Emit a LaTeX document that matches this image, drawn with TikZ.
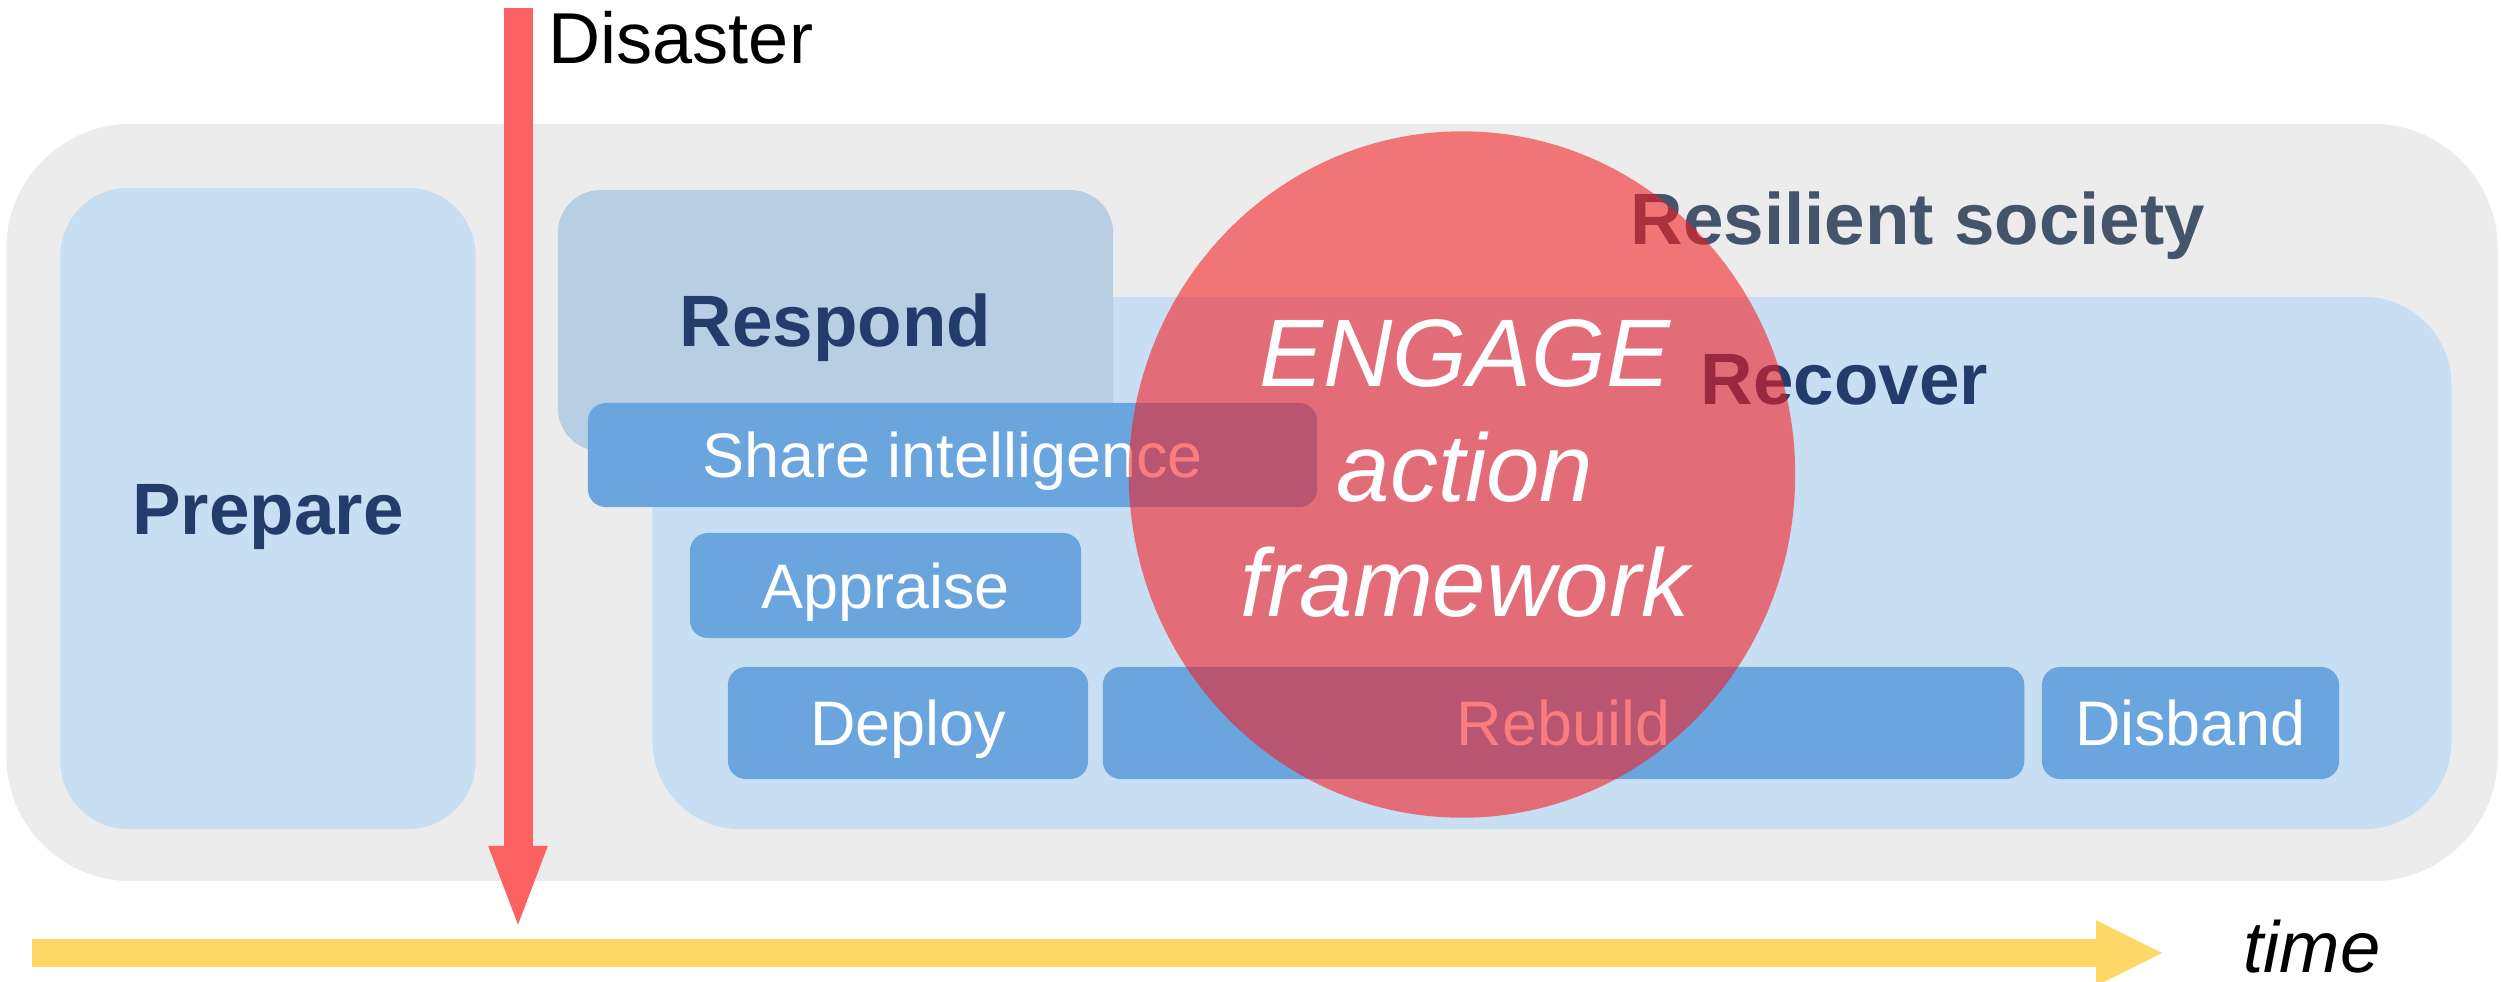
\documentclass[tikz,border=0pt]{standalone}
\usepackage{fontspec}
\setmainfont{Liberation Sans}
\usetikzlibrary{arrows.meta}

\definecolor{societygrey}{RGB}{236,236,236}
\definecolor{phaseblue}{RGB}{200,222,242}
\definecolor{respondblue}{RGB}{184,206,226}
\definecolor{stepblue}{RGB}{106,165,221}
\definecolor{phasetext}{RGB}{35,60,108}
\definecolor{societytext}{RGB}{68,84,106}
\definecolor{disasterred}{RGB}{252,98,98}
\definecolor{engagered}{RGB}{246,25,30}
\definecolor{timeyellow}{RGB}{253,216,102}

\tikzset{
	phase/.style={fill=phaseblue, rounded corners=0.68cm, inner sep=0pt, text=phasetext,
		font=\fontsize{20.7}{24}\selectfont\bfseries, text height=14.8pt, text depth=0pt},
	action/.style={fill=stepblue, rounded corners=0.18cm, inner sep=0pt, minimum height=1.12cm, text=white,
		font=\fontsize{17.9}{21}\selectfont, text height=12.8pt, text depth=0pt},
	txt/.style={inner sep=0pt, anchor=base west}
}

\begin{document}
\begin{tikzpicture}[x=0.01cm, y=-0.01cm]
	\useasboundingbox (0,0) rectangle (2501,981);
	%society
	\node[fill=societygrey, rounded corners=1.25cm, inner sep=0pt, minimum width=24.9cm, minimum height=7.57cm] (society) at (1252,502.5) {};
	\node[txt, text=societytext, font=\fontsize{20.7}{24}\selectfont\bfseries] (resilient) at (1630,244) {Resilient society};
	%phases
	\node[phase, minimum width=4.15cm, minimum height=6.41cm] (prepare) at (268,508.5) {Prepare};
	\node[phase, rounded corners=0.88cm, minimum width=17.98cm, minimum height=5.32cm] (recover) at (1552,563) {};
	\node[txt, text=phasetext, font=\fontsize{20.7}{24}\selectfont\bfseries] (recovertxt) at (1700,404) {Recover};
	\node[phase, fill=respondblue, rounded corners=0.43cm, minimum width=5.55cm, minimum height=2.61cm] (respond) at (835.5,320.5) {Respond};
	%actions
	\node[action, minimum width=7.29cm, minimum height=1.04cm] (share) at (952.5,455) {Share intelligence};
	\node[action, minimum width=3.91cm, minimum height=1.05cm] (appraise) at (885.5,585.5) {Appraise};
	\node[action, minimum width=3.60cm] (deploy) at (908,723) {Deploy};
	\node[action, minimum width=9.21cm] (rebuild) at (1563.5,723) {Rebuild};
	\node[action, minimum width=2.97cm] (disband) at (2190.5,723) {Disband};
	%disaster
	\coordinate (hit) at (518,8);
	\coordinate (impact) at (518,931);
	\draw[disasterred, line width=0.29cm, -{Triangle[length=0.85cm, width=0.52cm]}] (hit) -- (impact);
	\node[txt, font=\fontsize{20.5}{24}\selectfont] (disaster) at (548,63) {Disaster};
	%time
	\coordinate (start) at (32,953);
	\coordinate (later) at (2164,953);
	\draw[timeyellow, line width=0.28cm, -{Triangle[length=0.68cm, width=0.6cm]}] (start) -- (later);
	\node[txt, font=\fontsize{20.6}{24}\selectfont\itshape] (time) at (2243,972) {time};
	%engage
	\fill[engagered, opacity=0.57] (1462,474.5) ellipse [x radius=3.33cm, y radius=3.43cm];
	\node[inner sep=0pt, align=center, text=white, font=\fontsize{27.3}{32.7}\selectfont\itshape] (engage) at (1465,468) {ENGAGE\\action\\framework};
\end{tikzpicture}
\end{document}
